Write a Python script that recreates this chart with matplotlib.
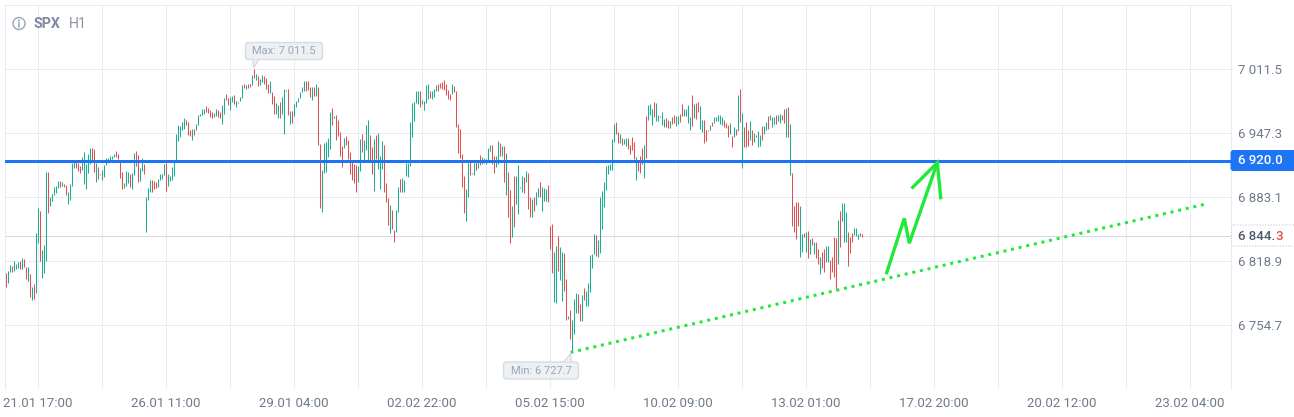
import matplotlib
matplotlib.use('Agg')
import matplotlib.pyplot as plt
import numpy as np
from matplotlib.patches import Circle, FancyBboxPatch, Polygon

plt.rcParams['font.family'] = ['Roboto', 'DejaVu Sans']

W, H = 1294, 417

# hourly bars (one row = ten bars)
bar_high = [
    6807, 6809, 6815, 6814, 6819, 6816, 6818, 6819, 6822, 6821,
    6813, 6813, 6806, 6793, 6796, 6847, 6873, 6870, 6830, 6835,
    6909, 6909, 6884, 6887, 6894, 6895, 6900, 6900, 6899, 6897,
    6896, 6889, 6897, 6918, 6919, 6919, 6918, 6915, 6924, 6929,
    6917, 6927, 6933, 6933, 6932, 6918, 6914, 6907, 6911, 6916,
    6923, 6923, 6925, 6925, 6927, 6930, 6927, 6919, 6909, 6898,
    6910, 6909, 6907, 6908, 6928, 6930, 6926, 6913, 6923, 6917,
    6884, 6893, 6901, 6901, 6900, 6899, 6902, 6907, 6907, 6917,
    6918, 6907, 6905, 6914, 6920, 6947, 6956, 6955, 6959, 6963,
    6961, 6959, 6951, 6952, 6952, 6957, 6966, 6967, 6972, 6972,
    6975, 6973, 6971, 6969, 6968, 6972, 6971, 6969, 6976, 6983,
    6987, 6983, 6984, 6985, 6986, 6980, 6979, 6984, 6996, 6997,
    6996, 6997, 6997, 7006, 7011.5, 7007, 7005, 7002, 7006, 7005,
    7003, 6997, 7000, 6989, 6985, 6978, 6976, 6979, 6984, 6992,
    6991, 6992, 6970, 6970, 6977, 6980, 6983, 6989, 6994, 7000,
    7000, 7000, 6994, 6994, 6994, 6997, 6994, 6937, 6911, 6938,
    6939, 6943, 6969, 6973, 6965, 6966, 6961, 6949, 6935, 6943,
    6945, 6941, 6929, 6919, 6917, 6916, 6915, 6942, 6947, 6941,
    6956, 6961, 6946, 6934, 6942, 6946, 6948, 6925, 6940, 6936,
    6898, 6883, 6876, 6871, 6850, 6871, 6894, 6902, 6903, 6901,
    6918, 6918, 6959, 6978, 6979, 6990, 6990, 6990, 6981, 6980,
    6996, 6997, 6990, 6990, 6992, 6996, 6997, 6998, 6999, 7001,
    6997, 6991, 6987, 6997, 6995, 6990, 6957, 6952, 6927, 6905,
    6892, 6918, 6919, 6908, 6918, 6919, 6920, 6926, 6924, 6923,
    6922, 6933, 6936, 6936, 6925, 6925, 6940, 6938, 6935, 6935,
    6928, 6909, 6891, 6875, 6905, 6905, 6916, 6894, 6905, 6904,
    6910, 6908, 6884, 6882, 6884, 6889, 6893, 6899, 6894, 6893,
    6892, 6896, 6855, 6857, 6828, 6834, 6844, 6833, 6828, 6827,
    6801, 6764, 6770, 6760, 6781, 6787, 6786, 6776, 6785, 6792,
    6789, 6797, 6825, 6826, 6846, 6845, 6840, 6884, 6890, 6899,
    6915, 6916, 6917, 6942, 6957, 6959, 6949, 6947, 6943, 6942,
    6943, 6943, 6936, 6944, 6939, 6924, 6921, 6925, 6933, 6936,
    6965, 6976, 6977, 6972, 6979, 6978, 6966, 6965, 6969, 6962,
    6963, 6961, 6960, 6964, 6966, 6965, 6965, 6967, 6977, 6972,
    6972, 6976, 6964, 6986, 6977, 6978, 6979, 6975, 6961, 6961,
    6951, 6951, 6956, 6959, 6964, 6964, 6966, 6966, 6964, 6961,
    6958, 6956, 6958, 6945, 6954, 6952, 6986, 6992, 6968, 6954,
    6959, 6951, 6960, 6951, 6948, 6946, 6950, 6946, 6955, 6955,
    6959, 6965, 6966, 6964, 6964, 6966, 6966, 6967, 6966, 6972,
    6973, 6974, 6957, 6908, 6875, 6879, 6879, 6875, 6846, 6847,
    6848, 6849, 6841, 6842, 6838, 6838, 6831, 6823, 6828, 6831,
    6834, 6834, 6820, 6823, 6843, 6842, 6861, 6870, 6878, 6878,
    6869, 6848, 6843, 6847, 6853, 6853, 6846, 6847, 6846,
]
bar_low = [
    6793, 6797, 6808, 6808, 6809, 6811, 6812, 6811, 6811, 6813,
    6801, 6799, 6783, 6780, 6781, 6787, 6837, 6819, 6802, 6807,
    6819, 6868, 6875, 6880, 6886, 6888, 6893, 6894, 6895, 6894,
    6886, 6877, 6881, 6895, 6913, 6913, 6910, 6908, 6911, 6897,
    6892, 6908, 6917, 6919, 6909, 6899, 6902, 6906, 6901, 6904,
    6916, 6918, 6919, 6922, 6924, 6924, 6922, 6903, 6892, 6893,
    6895, 6898, 6894, 6892, 6906, 6915, 6899, 6900, 6910, 6907,
    6848, 6881, 6889, 6889, 6892, 6893, 6894, 6901, 6902, 6906,
    6890, 6895, 6900, 6901, 6905, 6921, 6940, 6944, 6951, 6952,
    6956, 6946, 6945, 6941, 6946, 6951, 6956, 6965, 6966, 6967,
    6969, 6968, 6964, 6963, 6964, 6965, 6964, 6963, 6957, 6967,
    6981, 6976, 6971, 6979, 6977, 6974, 6978, 6980, 6983, 6993,
    6992, 6993, 6994, 6996, 7003, 7001, 6995, 6996, 6999, 6997,
    6992, 6988, 6988, 6977, 6967, 6967, 6963, 6963, 6967, 6947,
    6990, 6966, 6957, 6958, 6965, 6974, 6979, 6983, 6989, 6990,
    6990, 6991, 6984, 6981, 6985, 6985, 6936, 6873, 6869, 6908,
    6909, 6924, 6932, 6956, 6963, 6941, 6945, 6925, 6914, 6933,
    6936, 6922, 6907, 6901, 6898, 6889, 6899, 6910, 6929, 6921,
    6931, 6921, 6921, 6907, 6890, 6922, 6912, 6892, 6912, 6889,
    6879, 6856, 6847, 6851, 6838, 6848, 6869, 6889, 6889, 6889,
    6905, 6904, 6915, 6944, 6960, 6978, 6977, 6974, 6977, 6971,
    6978, 6982, 6983, 6982, 6984, 6990, 6990, 6993, 6992, 6991,
    6986, 6982, 6981, 6987, 6989, 6954, 6928, 6923, 6894, 6868,
    6860, 6884, 6906, 6907, 6906, 6911, 6913, 6916, 6917, 6918,
    6917, 6920, 6930, 6917, 6908, 6914, 6917, 6925, 6925, 6899,
    6886, 6864, 6837, 6843, 6854, 6877, 6867, 6893, 6889, 6888,
    6899, 6872, 6864, 6864, 6870, 6876, 6884, 6884, 6870, 6880,
    6880, 6879, 6831, 6807, 6778, 6777, 6809, 6800, 6779, 6789,
    6760, 6761, 6741, 6727.7, 6746, 6767, 6767, 6759, 6759, 6780,
    6774, 6774, 6788, 6812, 6826, 6824, 6823, 6827, 6851, 6874,
    6891, 6907, 6911, 6911, 6939, 6947, 6938, 6938, 6936, 6937,
    6935, 6932, 6927, 6931, 6922, 6901, 6910, 6908, 6917, 6903,
    6923, 6961, 6966, 6956, 6964, 6960, 6960, 6964, 6956, 6954,
    6954, 6953, 6953, 6957, 6958, 6955, 6957, 6959, 6965, 6965,
    6965, 6958, 6951, 6955, 6963, 6962, 6969, 6952, 6949, 6938,
    6940, 6950, 6951, 6955, 6958, 6960, 6960, 6957, 6956, 6954,
    6953, 6944, 6947, 6934, 6944, 6946, 6950, 6959, 6913, 6934,
    6934, 6935, 6941, 6936, 6939, 6944, 6934, 6935, 6941, 6947,
    6951, 6952, 6961, 6954, 6957, 6957, 6960, 6958, 6961, 6958,
    6944, 6944, 6906, 6855, 6848, 6841, 6855, 6823, 6828, 6843,
    6828, 6822, 6826, 6835, 6826, 6822, 6816, 6806, 6812, 6808,
    6818, 6818, 6801, 6808, 6803, 6790, 6816, 6833, 6860, 6838,
    6838, 6814, 6827, 6838, 6845, 6844, 6841, 6844, 6843,
]
# G = up bar, R = down bar
bar_dir = (
    'RGGRGGGRGR' 'RGRGRGGRGG' 'GRGGGGGRGR' 'RGGGGRRRGG' 'GGGRRGRGGG'
    'GGGGGRRRRG' 'GGRGGRRGGR' 'GGGRRRGGGG' 'RGGGGGGGGG' 'RRRGRGGGGG'
    'RRRRGGRRGG' 'RRGGRGGGGR' 'GRRGRGRGGR' 'RRGRRGGRGG' 'GRGRGGGGGG'
    'RRRGRGRRGG' 'GGGRGRRRRG' 'RRRRRRGGRG' 'GGRRGRGGGR' 'RRGRRGGRGG'
    'GGGGGGGRGG' 'GGRGGGRRRR' 'RRRGRRRRRR' 'GGRGGRGRGG' 'GGGRRGGRGR'
    'GRRGRGGGGR' 'GRRGRGGRGG' 'GRRRGGRGGR' 'RGRGGGRRGR' 'GGGGGRGGGG'
    'GGGGGRRGRG' 'GRRRRGRRRG' 'RGGGRGGRGG' 'RRGRRGGRRG' 'GGGRGRRGGR'
    'RRGRGGGGGR' 'RRGRGRGRGR' 'RRGRGRGGRG' 'GRGGGRGGRR' 'GRGRRRRGGR'
    'GRGRGRRGRR' 'GGRRRRGRGG' 'GRRRGGGRRG' 'G'
)

max_price = 7011.5
min_price = 6727.7
last_price = 6844.3
level_price = 6920.0

price_ticks = [7011.5, 6947.3, 6883.1, 6818.9, 6754.7]
time_labels = ['21.01 17:00', '26.01 11:00', '29.01 04:00', '02.02 22:00', '05.02 15:00',
               '10.02 09:00', '13.02 01:00', '17.02 20:00', '20.02 12:00', '23.02 04:00']

# forecast drawn on top, bar number / price
trend_x = [282.5, 599.25]
trend_y = [6727.7, 6876.1]
arrow_x = [440.6, 449.4, 451.9, 465.9]
arrow_y = [6807.7, 6862.2, 6837.2, 6918.0]
head_x = [453.6, 465.9, 467.6]
head_y = [6893.3, 6918.0, 6882.9]

GRID = '#e6ebf4'
TEXT = '#6f7a8c'
UP = '#1bae91'
DOWN = '#e0504f'
BLUE = '#1d74f5'
LIME = '#22e83a'


def fmt(v):
    return f'{v:,.1f}'.replace(',', ' ')


fig = plt.figure(figsize=(W / 100, H / 100), dpi=100)
left, right, top, bottom = 4.5, 1230.5, 5.5, 389
ax = fig.add_axes([left / W, 1 - bottom / H, (right - left) / W, (bottom - top) / H])
ax.set_xlim(-0.5, 612.5)
ax.set_ylim(6691.0, 7075.7)

# grid every 32 bars, a label on every second line
grid_x = np.arange(len(time_labels) * 2 - 1) * 32 + 16
ax.set_xticks(grid_x)
ax.set_xticklabels([time_labels[i // 2] if i % 2 == 0 else '' for i in range(len(grid_x))])
ax.set_yticks(price_ticks)
ax.set_yticklabels([fmt(v) for v in price_ticks])
ax.yaxis.tick_right()
ax.tick_params(length=0, labelcolor=TEXT, labelsize=9.5)
ax.tick_params(axis='x', pad=6)
ax.tick_params(axis='y', pad=5.5)
ax.grid(True, color=GRID, lw=0.75)
ax.set_axisbelow(True)
for side in ['top', 'left', 'right']:
    ax.spines[side].set_color(GRID)
    ax.spines[side].set_linewidth(0.75)
ax.spines['bottom'].set_visible(False)

ax.axhline(last_price, color='#d4d9e5', lw=0.75, zorder=1.5)

idx = np.arange(len(bar_high))
colors = [UP if d == 'G' else DOWN for d in bar_dir]
ax.vlines(idx, bar_low, bar_high, colors=colors, lw=0.75, zorder=2)

ax.axhline(level_price, color=BLUE, lw=2.16, zorder=3)

ax.plot(trend_x, trend_y, color=LIME, lw=2.16, ls=(0, (1, 1.6)), zorder=4)
ax.plot(arrow_x, arrow_y, color=LIME, lw=2.4, zorder=4, solid_joinstyle='miter')
ax.plot(head_x, head_y, color=LIME, lw=2.4, zorder=4, solid_joinstyle='miter')

# overlay in pixels for labels and callouts
ov = fig.add_axes([0, 0, 1, 1], zorder=5)
ov.set_xlim(0, W)
ov.set_ylim(H, 0)
ov.axis('off')
ov.patch.set_alpha(0)

# header
ov.add_patch(Circle((19, 23.5), 6, fc='none', ec='#9aa5ba', lw=1))
ov.plot([19, 19], [22.5, 27], color='#9aa5ba', lw=1.1)
ov.plot([19, 19], [19.5, 20.5], color='#9aa5ba', lw=1.1)
ov.text(34, 24, 'SPX', color='#7f8aa1', fontsize=10.2, fontweight='bold', va='center')
ov.text(68.5, 24, 'H1', color='#8a94a8', fontsize=10.2, va='center')


def callout(x0, x1, y0, y1, tip, base, label):
    ov.add_patch(FancyBboxPatch((x0 + 2, y0 + 2), x1 - x0 - 4, y1 - y0 - 4,
                                boxstyle='round,pad=2,rounding_size=3',
                                fc='#eef1f4', ec='#d6dce4', lw=1, zorder=2))
    ov.add_patch(Polygon([base[0], tip, base[1]], closed=False,
                         fc='#eef1f4', ec='#d6dce4', lw=1, zorder=3))
    ov.text((x0 + x1) / 2, (y0 + y1) / 2 + 0.3, label, color='#9ca5b7', fontsize=8.0,
            ha='center', va='center', zorder=4)


callout(245.5, 322.5, 42.5, 59.5, (253.5, 68), [(253, 59.5), (259, 59.5)], 'Max: ' + fmt(max_price))
callout(503.5, 578.5, 362, 379, (571, 353), [(564, 362), (571, 362)], 'Min: ' + fmt(min_price))

# level tag
ov.add_patch(FancyBboxPatch((1232.5, 152), 70, 17, boxstyle='round,pad=2,rounding_size=3',
                            fc=BLUE, ec='none', clip_on=True))
ov.text(1238, 160.7, fmt(level_price), color='white', fontsize=9.5, fontweight='medium', va='center')

# last price tag, the last digit is red
ov.add_patch(FancyBboxPatch((1233.5, 227), 70, 17, boxstyle='round,pad=2,rounding_size=3',
                            fc='white', ec='#c4cad6', lw=0.8, ls=(0, (1, 1.5))))
last_text = fmt(last_price)
t = ov.text(1238, 236, last_text[:-1], color='#4b566b', fontsize=9.5, fontweight='medium', va='center')
fig.canvas.draw()
box = t.get_window_extent()
ov.text(box.x1, 236, last_text[-1], color='#e0504f', fontsize=9.5, fontweight='medium', va='center')

fig.savefig('out.png', dpi=100)
